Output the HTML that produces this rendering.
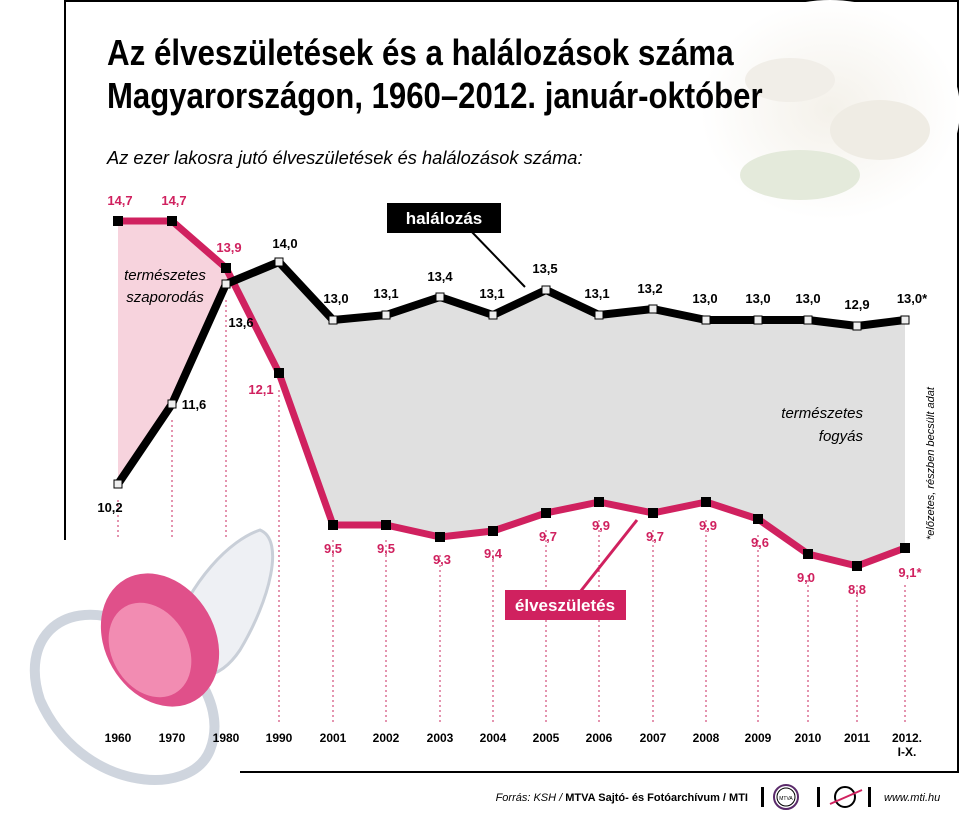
<!DOCTYPE html>
<html><head><meta charset="utf-8"><style>
body{margin:0;background:#fff;}
svg{display:block;font-family:"Liberation Sans",sans-serif;}
.b{font-weight:bold;font-size:13px;}
.yr{font-weight:bold;font-size:12px;text-anchor:middle;}
</style></head><body>
<svg width="960" height="819" viewBox="0 0 960 819">
<defs>
<radialGradient id="cg" cx="50%" cy="50%" r="50%"><stop offset="0" stop-color="#f4f1ea"/><stop offset="1" stop-color="#fff"/></radialGradient>
</defs>
<rect x="65" y="1" width="893" height="771" fill="none" stroke="#000" stroke-width="2"/>
<ellipse cx="830" cy="110" rx="130" ry="110" fill="url(#cg)"/>
<ellipse cx="880" cy="130" rx="50" ry="30" fill="#efece4"/>
<ellipse cx="790" cy="80" rx="45" ry="22" fill="#f1eee8"/>
<ellipse cx="800" cy="175" rx="60" ry="25" fill="#e4eadb"/>
<text x="107" y="65" font-size="36" font-weight="bold" transform="translate(107 65) scale(0.87,1) translate(-107 -65)">Az élveszületések és a halálozások száma</text>
<text x="107" y="108" font-size="36" font-weight="bold" transform="translate(107 108) scale(0.865,1) translate(-107 -108)">Magyarországon, 1960–2012. január-október</text>
<text x="107" y="164" font-size="18.3" font-style="italic">Az ezer lakosra jutó élveszületések és halálozások száma:</text>
<polygon points="118,221 172,221 226,268 230,281 172,404 118,484" fill="#f7d3dd"/>
<polygon points="230,281 279,262 333,320 386,315 440,297 493,315 546,290 599,315 653,309 706,320 758,320 808,320 857,326 905,320 905,548 857,566 808,554 758,519 706,502 653,513 599,502 546,513 493,531 440,537 386,525 333,525 279,373" fill="#e0e0e0"/>
<g stroke="#c8285f" stroke-width="1" stroke-dasharray="2,3">
<line x1="118" y1="500" x2="118" y2="725"/><line x1="172" y1="420" x2="172" y2="725"/><line x1="226" y1="300" x2="226" y2="725"/><line x1="279" y1="390" x2="279" y2="725"/>
<line x1="333" y1="540" x2="333" y2="725"/><line x1="386" y1="540" x2="386" y2="725"/><line x1="440" y1="555" x2="440" y2="725"/><line x1="493" y1="550" x2="493" y2="725"/>
<line x1="546" y1="530" x2="546" y2="725"/><line x1="599" y1="520" x2="599" y2="725"/><line x1="653" y1="530" x2="653" y2="725"/><line x1="706" y1="520" x2="706" y2="725"/>
<line x1="758" y1="535" x2="758" y2="725"/><line x1="808" y1="575" x2="808" y2="725"/><line x1="857" y1="585" x2="857" y2="725"/><line x1="905" y1="585" x2="905" y2="725"/>
</g>
<polyline points="118,221 172,221 226,268 279,373 333,525 386,525 440,537 493,531 546,513 599,502 653,513 706,502 758,519 808,554 857,566 905,548" fill="none" stroke="#d0215f" stroke-width="7" stroke-linejoin="round"/>
<polyline points="118,484 172,404 226,284 279,262 333,320 386,315 440,297 493,315 546,290 599,315 653,309 706,320 758,320 808,320 857,326 905,320" fill="none" stroke="#000" stroke-width="8" stroke-linejoin="round"/>
<g fill="#000">
<rect x="113" y="216" width="10" height="10"/><rect x="167" y="216" width="10" height="10"/><rect x="221" y="263" width="10" height="10"/><rect x="274" y="368" width="10" height="10"/>
<rect x="328" y="520" width="10" height="10"/><rect x="381" y="520" width="10" height="10"/><rect x="435" y="532" width="10" height="10"/><rect x="488" y="526" width="10" height="10"/>
<rect x="541" y="508" width="10" height="10"/><rect x="594" y="497" width="10" height="10"/><rect x="648" y="508" width="10" height="10"/><rect x="701" y="497" width="10" height="10"/>
<rect x="753" y="514" width="10" height="10"/><rect x="803" y="549" width="10" height="10"/><rect x="852" y="561" width="10" height="10"/><rect x="900" y="543" width="10" height="10"/>
</g>
<g fill="#eee" stroke="#000" stroke-width="1">
<rect x="114" y="480" width="8" height="8"/><rect x="168" y="400" width="8" height="8"/><rect x="222" y="280" width="8" height="8"/><rect x="275" y="258" width="8" height="8"/>
<rect x="329" y="316" width="8" height="8"/><rect x="382" y="311" width="8" height="8"/><rect x="436" y="293" width="8" height="8"/><rect x="489" y="311" width="8" height="8"/>
<rect x="542" y="286" width="8" height="8"/><rect x="595" y="311" width="8" height="8"/><rect x="649" y="305" width="8" height="8"/><rect x="702" y="316" width="8" height="8"/>
<rect x="754" y="316" width="8" height="8"/><rect x="804" y="316" width="8" height="8"/><rect x="853" y="322" width="8" height="8"/><rect x="901" y="316" width="8" height="8"/>
</g>
<g class="b" fill="#d0215f" text-anchor="middle">
<text x="120" y="205">14,7</text><text x="174" y="205">14,7</text><text x="229" y="252">13,9</text><text x="261" y="394">12,1</text>
<text x="333" y="553">9,5</text><text x="386" y="553">9,5</text><text x="442" y="564">9,3</text><text x="493" y="558">9,4</text>
<text x="548" y="541">9,7</text><text x="601" y="530">9,9</text><text x="655" y="541">9,7</text><text x="708" y="530">9,9</text>
<text x="760" y="547">9,6</text><text x="806" y="582">9,0</text><text x="857" y="594">8,8</text><text x="910" y="577">9,1*</text>
</g>
<g class="b" fill="#000" text-anchor="middle">
<text x="110" y="512">10,2</text><text x="194" y="409">11,6</text><text x="241" y="327">13,6</text><text x="285" y="248">14,0</text>
<text x="336" y="303">13,0</text><text x="386" y="298">13,1</text><text x="440" y="281">13,4</text><text x="492" y="298">13,1</text>
<text x="545" y="273">13,5</text><text x="597" y="298">13,1</text><text x="650" y="293">13,2</text><text x="705" y="303">13,0</text>
<text x="758" y="303">13,0</text><text x="808" y="303">13,0</text><text x="857" y="309">12,9</text><text x="912" y="303">13,0*</text>
</g>
<text x="165" y="280" font-size="15" font-style="italic" text-anchor="middle">természetes</text>
<text x="165" y="302" font-size="15" font-style="italic" text-anchor="middle">szaporodás</text>
<text x="863" y="418" font-size="15" font-style="italic" text-anchor="end">természetes</text>
<text x="863" y="441" font-size="15" font-style="italic" text-anchor="end">fogyás</text>
<text transform="translate(934,540) rotate(-90)" font-size="11" font-style="italic">*előzetes, részben becsült adat</text>
<polyline points="470,230 525,287" stroke="#000" stroke-width="2" fill="none"/>
<rect x="387" y="203" width="114" height="30" fill="#000"/>
<text x="444" y="224" fill="#fff" font-size="17" font-weight="bold" text-anchor="middle">halálozás</text>
<polyline points="580,592 637,520" stroke="#d0215f" stroke-width="3" fill="none"/>
<rect x="505" y="590" width="121" height="30" fill="#d0215f"/>
<text x="565" y="611" fill="#fff" font-size="17" font-weight="bold" text-anchor="middle">élveszületés</text>
<rect x="0" y="540" width="240" height="279" fill="#fff"/>
<path d="M40,700 C20,640 60,600 120,620 C180,640 230,700 210,750 C190,800 80,790 40,700Z" fill="none" stroke="#cfd5de" stroke-width="10"/>
<path d="M170,640 C190,580 230,540 260,530 C285,540 270,600 240,650 C220,680 190,690 170,640Z" fill="#eef0f4" stroke="#c9cfd8" stroke-width="3"/>
<ellipse cx="160" cy="640" rx="55" ry="70" transform="rotate(-30 160 640)" fill="#e0508a"/>
<ellipse cx="150" cy="650" rx="38" ry="50" transform="rotate(-30 150 650)" fill="#f28cb2"/>
<g class="yr">
<text x="118" y="742">1960</text><text x="172" y="742">1970</text><text x="226" y="742">1980</text><text x="279" y="742">1990</text>
<text x="333" y="742">2001</text><text x="386" y="742">2002</text><text x="440" y="742">2003</text><text x="493" y="742">2004</text>
<text x="546" y="742">2005</text><text x="599" y="742">2006</text><text x="653" y="742">2007</text><text x="706" y="742">2008</text>
<text x="758" y="742">2009</text><text x="808" y="742">2010</text><text x="857" y="742">2011</text><text x="907" y="742">2012.</text><text x="907" y="756">I-X.</text>
</g>
<text x="748" y="801" font-size="11" text-anchor="end"><tspan font-style="italic">Forrás: KSH / </tspan><tspan font-weight="bold">MTVA Sajtó- és Fotóarchívum / MTI</tspan></text>
<rect x="761" y="787" width="3" height="20" fill="#000"/>
<circle cx="786" cy="797" r="12" fill="none" stroke="#5a2a6a" stroke-width="2"/><circle cx="786" cy="797" r="9" fill="none" stroke="#000" stroke-width="1"/>
<text x="786" y="800" font-size="5" text-anchor="middle">MTVA</text>
<rect x="817" y="787" width="3" height="20" fill="#000"/>
<circle cx="845" cy="797" r="10" fill="none" stroke="#000" stroke-width="2"/><line x1="830" y1="804" x2="862" y2="790" stroke="#d0215f" stroke-width="2"/>
<rect x="868" y="787" width="3" height="20" fill="#000"/>
<text x="884" y="801" font-size="11" font-style="italic">www.mti.hu</text>
</svg>
</body></html>
